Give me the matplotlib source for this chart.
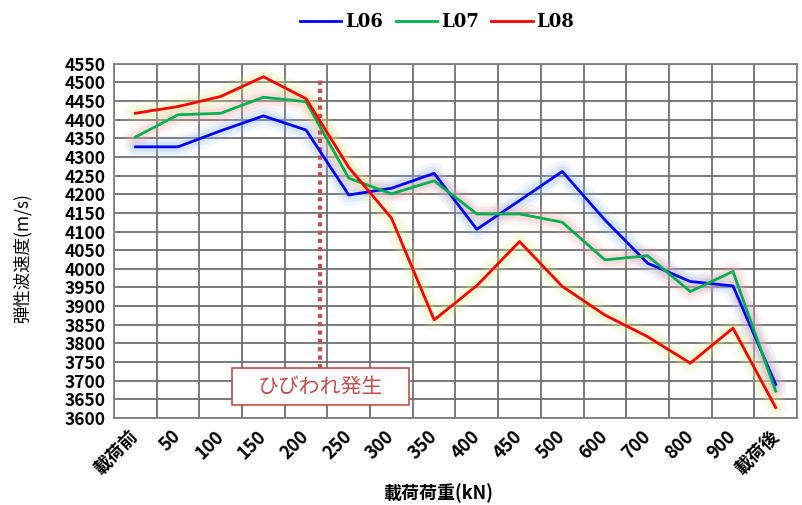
import matplotlib
matplotlib.use("Agg")
import matplotlib.pyplot as plt
from matplotlib.patches import Rectangle
import numpy as np

categories = ["載荷前", "50", "100", "150", "200", "250", "300", "350",
              "400", "450", "500", "600", "700", "800", "900", "載荷後"]
L06 = [4327, 4327, 4370, 4410, 4372, 4198, 4216, 4256, 4106, 4183, 4261, 4131, 4015, 3966, 3954, 3690]
L07 = [4353, 4413, 4417, 4460, 4448, 4243, 4201, 4236, 4147, 4147, 4125, 4024, 4035, 3939, 3993, 3672]
L08 = [4417, 4435, 4462, 4515, 4456, 4272, 4136, 3863, 3955, 4073, 3953, 3876, 3818, 3747, 3841, 3628]
series_names = ["L06", "L07", "L08"]
yticks = list(range(3600, 4551, 50))

plt.rcParams['font.family'] = ['Noto Sans CJK JP', 'DejaVu Sans']

fig = plt.figure(figsize=(8.02, 5.05), dpi=100)
ax = fig.add_axes([0.1421, 0.1723, 0.8517, 0.7016])

x = np.arange(len(categories))
colors = ["#0000ff", "#00b050", "#ff0000"]
glows = ["#8fb8ee", "#f0a8a8", "#dfee90"]
handles = []
for vals, c, g, name in zip([L06, L07, L08], colors, glows, series_names):
    for lw, a in [(16, 0.10), (11, 0.14), (7, 0.18)]:
        ax.plot(x, vals, color=g, lw=lw, alpha=a, solid_capstyle='round',
                solid_joinstyle='round', zorder=2)
for vals, c, name in zip([L06, L07, L08], colors, series_names):
    h, = ax.plot(x, vals, color=c, lw=2, label=name, zorder=4)
    handles.append(h)

ax.set_xlim(-0.5, len(categories) - 0.5)
ax.set_ylim(3600, 4550)
ax.set_yticks(yticks)
ax.set_yticklabels([str(v) for v in yticks], fontsize=12.5, fontweight='bold')
ax.set_xticks(x)
ax.set_xticklabels(categories, fontsize=13, fontweight='bold', rotation=45,
                   ha='right', va='center', rotation_mode='anchor')
ax.set_xticks(np.arange(-0.5, len(categories), 1), minor=True)
ax.tick_params(axis='both', which='both', length=0)
ax.tick_params(axis='x', which='major', pad=11)
ax.tick_params(axis='y', pad=6)
ax.grid(True, axis='y', which='major', color='#707070', lw=1.3, zorder=1)
ax.grid(True, axis='x', which='minor', color='#707070', lw=1.3, zorder=1)
ax.grid(False, axis='x', which='major')
for s in ax.spines.values():
    s.set_color('#808080')
    s.set_linewidth(1.3)

fig.text(0.028, 0.489, "弾性波速度(m/s)", fontsize=12.5, rotation=90,
         ha='center', va='center')
fig.text(0.546, 0.024, "載荷荷重(kN)", fontsize=13, fontweight='bold',
         ha='center', va='center')

# crack annotation
ax.plot([4.33, 4.33], [3735, 4512], color='#c0504d', lw=3, linestyle=(0, (1, 1)), zorder=3)
ax.add_patch(Rectangle((2.26, 3635), 4.16, 100, facecolor='white', edgecolor='#c0504d',
                       lw=1.2, zorder=5))
ax.text(4.34, 3684, "ひびわれ発生", ha='center', va='center', fontsize=15,
        color='#c0504d', zorder=6)

leg = fig.legend(handles=handles, labels=series_names, loc='center', bbox_to_anchor=(0.545, 0.956),
                 ncol=3, frameon=False, handlelength=2.3, handletextpad=0.2, columnspacing=0.7,
                 prop={'family': 'DejaVu Serif', 'weight': 'bold', 'size': 13})

fig.savefig("out.png", dpi=100)
